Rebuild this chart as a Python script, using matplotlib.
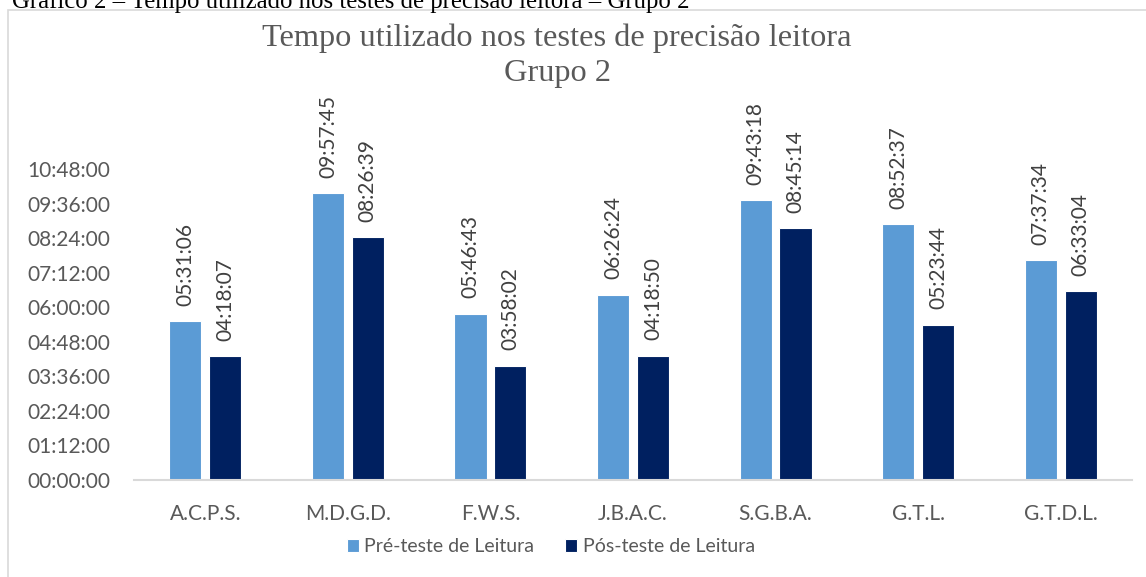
import matplotlib
matplotlib.use('Agg')
import matplotlib.pyplot as plt
import matplotlib.patches as patches
from matplotlib.ticker import FuncFormatter, MultipleLocator
import numpy as np

# dados do gráfico
alunos = ['A.C.P.S.', 'M.D.G.D.', 'F.W.S.', 'J.B.A.C.', 'S.G.B.A.', 'G.T.L.', 'G.T.D.L.']
pre_teste = ['05:31:06', '09:57:45', '05:46:43', '06:26:24', '09:43:18', '08:52:37', '07:37:34']
pos_teste = ['04:18:07', '08:26:39', '03:58:02', '04:18:50', '08:45:14', '05:23:44', '06:33:04']
series_nomes = ['Pré-teste de Leitura', 'Pós-teste de Leitura']


def to_hours(s):
    h, m, sec = [int(v) for v in s.split(':')]
    return h + m / 60 + sec / 3600


def fmt_hms(v, pos=None):
    total = int(round(v * 3600))
    return f"{total // 3600:02d}:{(total % 3600) // 60:02d}:{total % 60:02d}"


SANS = ['Lato', 'DejaVu Sans']
SERIF = ['Liberation Serif', 'DejaVu Serif']
COR_CLARA = '#5B9BD5'
COR_ESCURA = '#002060'
CINZA = '#595959'
FS = 15

fig = plt.figure(figsize=(11.46, 5.77), dpi=100)
W, H = 1146, 577

# moldura do gráfico (cinza claro)
frame = patches.Rectangle((8 / W, -0.1), 1.2, (577 - 10) / H + 0.1, transform=fig.transFigure,
                          fill=False, edgecolor='#D9D9D9', linewidth=1.2)
fig.patches.append(frame)

# legenda do documento (cortada no topo, como na imagem original)
fig.text(12 / W, 1 - 8 / H, 'Gráfico 2 – Tempo utilizado nos testes de precisão leitora – Grupo 2',
         ha='left', va='baseline', fontsize=17.8, family=SERIF, color='black')

ax = fig.add_axes([134 / W, (577 - 480) / H, (1132 - 134) / W, (480 - 169) / H])

x = np.arange(len(alunos))
largura = 0.225
desloc = 0.14
pre_h = [to_hours(s) for s in pre_teste]
pos_h = [to_hours(s) for s in pos_teste]

b1 = ax.bar(x - desloc, pre_h, largura, color=COR_CLARA, edgecolor='white', linewidth=0.8,
            label=series_nomes[0])
b2 = ax.bar(x + desloc, pos_h, largura, color=COR_ESCURA, edgecolor='white', linewidth=0.8,
            label=series_nomes[1])

for barras, textos in ((b1, pre_teste), (b2, pos_teste)):
    for b, t in zip(barras, textos):
        ax.annotate(t, (b.get_x() + b.get_width() / 2, b.get_height()),
                    xytext=(0, 11), textcoords='offset points', rotation=90,
                    ha='center', va='bottom', fontsize=FS, family=SANS, color='#404040',
                    annotation_clip=False)

ax.set_xlim(-0.5, len(alunos) - 0.5)
ax.set_ylim(0, 10.8)
ax.yaxis.set_major_locator(MultipleLocator(1.2))
ax.yaxis.set_major_formatter(FuncFormatter(fmt_hms))
ax.set_xticks(x)
ax.set_xticklabels(alunos)

for lbl in ax.get_xticklabels() + ax.get_yticklabels():
    lbl.set_family(SANS)
    lbl.set_fontsize(FS)
    lbl.set_color(CINZA)

ax.tick_params(axis='both', length=0)
ax.tick_params(axis='y', pad=17)
ax.tick_params(axis='x', pad=17)
for s in ('top', 'right', 'left'):
    ax.spines[s].set_visible(False)
ax.spines['bottom'].set_color('#D9D9D9')
ax.spines['bottom'].set_linewidth(1.5)

fig.text(557 / W, 1 - 38 / H, 'Tempo utilizado nos testes de precisão leitora', ha='center', va='center',
         fontsize=23.3, family=SERIF, color=CINZA)
fig.text(557 / W, 1 - 74 / H, 'Grupo 2', ha='center', va='center',
         fontsize=23.3, family=SERIF, color=CINZA)

leg = fig.legend(loc='center', bbox_to_anchor=(551 / W, 1 - 547 / H), ncol=2, frameon=False,
                 prop={'family': 'Lato', 'size': 14}, labelcolor=CINZA, handlelength=0.6,
                 handleheight=0.6, handletextpad=0.3, columnspacing=1.6)

fig.savefig('out.png', dpi=100)
